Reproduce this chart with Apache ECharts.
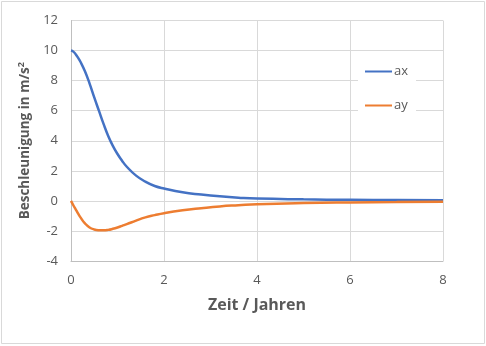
<!DOCTYPE html>
<html><head><meta charset="utf-8">
<script src="https://cdn.jsdelivr.net/npm/echarts@6/dist/echarts.min.js"></script>
<style>html,body{margin:0;padding:0;background:#fff}#c{width:486px;height:346px}</style>
</head><body><div id="c"></div>
<script>
const tValues = [0, 0.05, 0.1, 0.15, 0.2, 0.3, 0.4, 0.5, 0.6, 0.7, 0.8, 0.9, 1.0, 1.1, 1.2, 1.4, 1.6, 1.8, 2.0, 2.4, 2.8, 3.2, 3.6, 4.0, 5, 6, 7, 8];
const axValues = [10, 9.93, 9.76, 9.53, 9.27, 8.62, 7.8, 6.88, 6.0, 5.12, 4.32, 3.66, 3.12, 2.66, 2.27, 1.68, 1.28, 0.99, 0.82, 0.57, 0.42, 0.3, 0.21, 0.15, 0.1, 0.07, 0.05, 0.04];
const ayValues = [0, -0.29, -0.56, -0.83, -1.08, -1.5, -1.77, -1.9, -1.95, -1.96, -1.93, -1.86, -1.77, -1.66, -1.55, -1.31, -1.1, -0.95, -0.82, -0.63, -0.49, -0.37, -0.29, -0.22, -0.14, -0.1, -0.08, -0.06];
const seriesNames = ['ax', 'ay'];
const xTicks = {min: 0, max: 8, interval: 2};
const yTicks = {min: -4, max: 12, interval: 2};

const chart = echarts.init(document.getElementById('c'), null, {renderer: 'canvas'});
const font = '"Open Sans", "Liberation Sans", sans-serif';
const txt = '#595959';
chart.setOption({
  animation: false,
  backgroundColor: '#fff',
  grid: {left: 71, right: 43, top: 20.5, bottom: 85, containLabel: false},
  graphic: [{type: 'rect', shape: {x: 1.5, y: 1.5, width: 483, height: 342}, style: {fill: 'none', stroke: '#d9d9d9', lineWidth: 1}, silent: true}],
  legend: {
    data: seriesNames, orient: 'vertical', left: 358, top: 57,
    padding: [8, 8, 7, 7], itemGap: 21, backgroundColor: '#fff',
    icon: 'rect', itemWidth: 27, itemHeight: 2,
    textStyle: {fontFamily: font, fontSize: 13, color: txt, padding: [0, 0, 0, -3]}
  },
  xAxis: {
    type: 'value', min: xTicks.min, max: xTicks.max, interval: xTicks.interval,
    name: 'Zeit / Jahren', nameLocation: 'middle', nameGap: 36,
    nameTextStyle: {fontFamily: font, fontSize: 16, fontWeight: 'bold', color: txt},
    axisLine: {onZero: false, lineStyle: {color: '#bfbfbf', width: 1}},
    axisTick: {show: false},
    axisLabel: {fontFamily: font, fontSize: 13, color: txt, margin: 13},
    splitLine: {lineStyle: {color: '#d9d9d9', width: 1}}
  },
  yAxis: {
    type: 'value', min: yTicks.min, max: yTicks.max, interval: yTicks.interval,
    name: '{b|Beschleunigung in m/s}{s|2}', nameLocation: 'middle', nameGap: 31, nameRotate: 90,
    nameTextStyle: {
      rich: {
        b: {fontFamily: font, fontSize: 13.5, fontWeight: 'bold', color: txt},
        s: {fontFamily: font, fontSize: 9, fontWeight: 'bold', color: txt, verticalAlign: 'top', padding: [0, 0, 8, 0]}
      }
    },
    axisLine: {show: true, lineStyle: {color: '#bfbfbf', width: 1}},
    axisTick: {show: false},
    axisLabel: {fontFamily: font, fontSize: 13, color: txt, margin: 13},
    splitLine: {lineStyle: {color: '#d9d9d9', width: 1}}
  },
  series: [
    {name: seriesNames[0], type: 'line', smooth: 0.5, symbol: 'none', color: '#4472C4',
     lineStyle: {width: 2.5}, data: tValues.map((t, i) => [t, axValues[i]])},
    {name: seriesNames[1], type: 'line', smooth: 0.5, symbol: 'none', color: '#ED7D31',
     lineStyle: {width: 2.5}, data: tValues.map((t, i) => [t, ayValues[i]])}
  ]
});
</script></body></html>
